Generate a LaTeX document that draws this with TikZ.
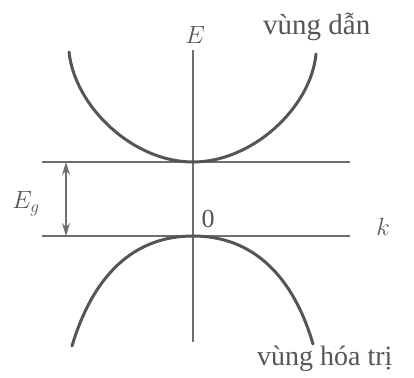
\documentclass[tikz,border=0pt]{standalone}
\usepackage{fontspec}
\setmainfont{Liberation Serif}
\usetikzlibrary{arrows.meta}
\definecolor{linegray}{HTML}{6E6E6E}
\definecolor{curvegray}{HTML}{555555}
\definecolor{textgray}{HTML}{555555}
\tikzset{
  axisline/.style={draw=linegray, line width=1.6pt},
  bandcurve/.style={draw=curvegray, line width=3pt, line cap=round},
  lbl/.style={text=textgray, inner sep=0pt},
  gaparrow/.style={draw=linegray, line width=1.4pt, {Stealth[length=13pt,width=8pt]}-{Stealth[length=13pt,width=8pt]}}
}
\begin{document}
\begin{tikzpicture}[x=1pt,y=-1pt]
\useasboundingbox (0,0) rectangle (414,377);
% coordinates
\coordinate (axtop) at (193,50);
\coordinate (axbot) at (193,342);
\coordinate (ul) at (42,162);
\coordinate (ur) at (350,162);
\coordinate (ll) at (42,236);
\coordinate (lr) at (350,236);
\coordinate (cv) at (193,162);
\coordinate (vv) at (193,236);
\coordinate (ga) at (66,162);
\coordinate (gb) at (66,236);
% lines
\draw[axisline] (axtop) -- (axbot);
\draw[axisline] (ul) -- (ur);
\draw[axisline] (ll) -- (lr);
\draw[gaparrow] (ga) -- (gb);
% conduction band
\draw[bandcurve] (69,52) .. controls (75,107) and (133,162) .. (cv)
                 .. controls (253,162) and (311,107) .. (316,54);
% valence band
\draw[bandcurve] (72,346) .. controls (93,276) and (133,236) .. (vv)
                 .. controls (253,236) and (293,276) .. (313,344);
% labels
\node[lbl, font=\fontsize{24}{28}\selectfont] (E) at (195,35) {$E$};
\node[lbl, font=\fontsize{29}{34}\selectfont, anchor=base west] (cb) at (263,35) {vùng dẫn};
\node[lbl, font=\fontsize{25}{30}\selectfont] (Eg) at (26,204) {$E_g$};
\node[lbl, font=\fontsize{26}{30}\selectfont] (zero) at (208,219) {0};
\node[lbl, font=\fontsize{27}{30}\selectfont] (k) at (383,227) {$k$};
\node[lbl, font=\fontsize{28}{33}\selectfont, anchor=base west] (vb) at (257,365) {vùng hóa trị};
\end{tikzpicture}
\end{document}
